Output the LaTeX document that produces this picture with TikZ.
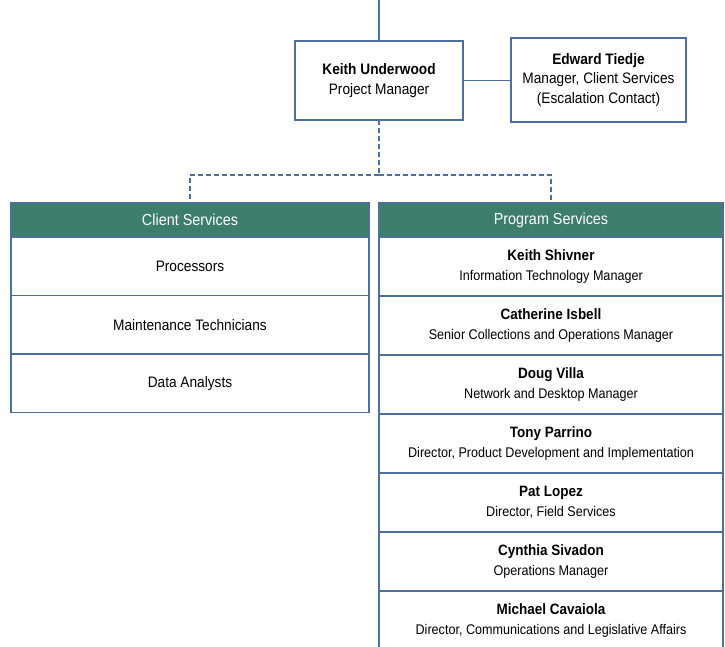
\documentclass[tikz,border=0pt]{standalone}
\usepackage{fontspec}
\setmainfont{Liberation Sans}[FakeStretch=0.9]
\usetikzlibrary{positioning}
\definecolor{boxline}{RGB}{79,110,160}
\definecolor{hdrgreen}{RGB}{61,126,106}
\newcommand{\who}[2]{{\bfseries\fontsize{15}{20}\selectfont #1}\\#2}
\begin{document}
\begin{tikzpicture}[
  x=1pt, y=-1pt,
  box/.style={draw=boxline, line width=1.4pt, fill=white, align=center, inner sep=0pt, outer sep=0pt},
  hdr/.style={box, fill=hdrgreen, text=white, font=\fontsize{16}{19}\selectfont, minimum height=34pt, anchor=north west},
  csrow/.style={box, font=\fontsize{15.2}{18}\selectfont, minimum width=358pt, minimum height=58.5pt, below=0pt of #1},
  psrow/.style={box, font=\fontsize{14}{20}\selectfont, minimum width=344pt, minimum height=59pt, below=0pt of #1},
  link/.style={draw=boxline, line width=1.6pt},
  dlink/.style={link, dash pattern=on 5pt off 3pt}
]
  \clip (0,0) rectangle (725,646);

  % Leitung
  \node[box, anchor=north west, minimum width=168pt, minimum height=79pt, font=\fontsize{15.2}{19.5}\selectfont] (keith) at (295,41)
    {\textbf{Keith Underwood}\\Project Manager\rule[-3pt]{0pt}{0pt}};
  \node[box, anchor=north west, minimum width=175pt, minimum height=84pt, font=\fontsize{15.2}{19.5}\selectfont] (edward) at (511,38)
    {\textbf{Edward Tiedje}\\Manager, Client Services\\(Escalation Contact)\rule[-3pt]{0pt}{0pt}};

  % Client Services
  \node[hdr, minimum width=358pt] (cshdr) at (11,203) {Client Services};
  \node[csrow=cshdr] (cs1) {Processors};
  \node[csrow=cs1]   (cs2) {Maintenance Technicians};
  \node[csrow=cs2]   (cs3) {Data Analysts};

  % Program Services
  \node[hdr, minimum width=344pt] (pshdr) at (379,203) {Program Services};
  \node[psrow=pshdr] (ps1) {\who{Keith Shivner}{Information Technology Manager}};
  \node[psrow=ps1]   (ps2) {\who{Catherine Isbell}{Senior Collections and Operations Manager}};
  \node[psrow=ps2]   (ps3) {\who{Doug Villa}{Network and Desktop Manager}};
  \node[psrow=ps3]   (ps4) {\who{Tony Parrino}{Director, Product Development and Implementation}};
  \node[psrow=ps4]   (ps5) {\who{Pat Lopez}{Director, Field Services}};
  \node[psrow=ps5]   (ps6) {\who{Cynthia Sivadon}{Operations Manager}};
  \node[psrow=ps6]   (ps7) {\who{Michael Cavaiola}{Director, Communications and Legislative Affairs}};

  % Verbindungen
  \coordinate (top) at (keith.north |- 0,0);
  \coordinate (split) at (keith.south |- 0,175);
  \draw[link] (top) -- (keith.north);
  \draw[link] (keith.east) -- (keith.east -| edward.west);
  \draw[dlink] (keith.south) -- (split);
  \draw[dlink] (split) -| (cshdr.north);
  \draw[dlink] (split) -| (pshdr.north);
\end{tikzpicture}
\end{document}
